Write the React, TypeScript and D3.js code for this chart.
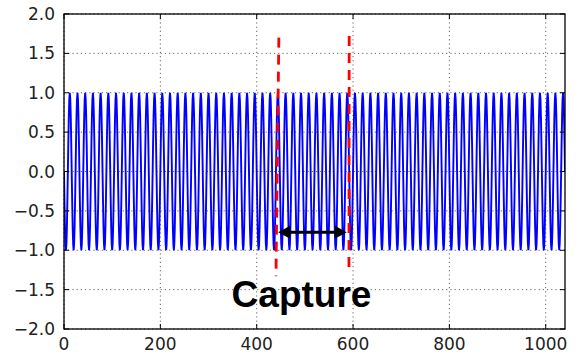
import React from "react";
import * as d3 from "d3";

const cycleValues = [0, -0.38, -0.71, -0.92, -1, -0.92, -0.71, -0.38, 0, 0.38, 0.71, 0.92, 1, 0.92, 0.71, 0.38];
const sampleCount = 1040;

const xTicks = [0, 200, 400, 600, 800, 1000];
const yTicks = [2.0, 1.5, 1.0, 0.5, 0.0, -0.5, -1.0, -1.5, -2.0];

// Annotations (data coordinates)
const captureLine1 = [[446, 1.7], [440, -1.33]];
const captureLine2 = [[592, 1.72], [591.5, -1.25]];
const arrowSpan = [444.5, 587];
const arrowY = -0.772;
const captureLabel = "Capture";
const captureLabelPos = [493, -1.72];

const W = 578;
const H = 357;
const M = { left: 64, right: 13, top: 14, bottom: 28 };

export default function App() {
  const x = d3.scaleLinear().domain([0, sampleCount]).range([M.left, W - M.right]);
  const y = d3.scaleLinear().domain([-2, 2]).range([H - M.bottom, M.top]);

  const samples = d3.range(sampleCount + 1).map((n) => cycleValues[n % cycleValues.length]);
  const line = d3
    .line<number>()
    .x((_, i) => x(i))
    .y((d) => y(d));

  const fmtY = (v: number) => (v < 0 ? "\u2212" : "") + Math.abs(v).toFixed(1);
  const x0 = M.left;
  const x1 = W - M.right;
  const y0 = M.top;
  const y1 = H - M.bottom;
  const tick = 5;
  const font = "DejaVu Sans, sans-serif";

  const ax1 = x(arrowSpan[0]);
  const ax2 = x(arrowSpan[1]);
  const ay = y(arrowY);
  const head = 12;
  const hw = 6.5;

  return (
    <svg width={W} height={H} style={{ position: "absolute", left: 0, top: 0, background: "#fff" }}>
      <defs>
        <clipPath id="plot">
          <rect x={x0} y={y0} width={x1 - x0} height={y1 - y0} />
        </clipPath>
      </defs>
      {/* grid */}
      <g stroke="#000" strokeWidth={1} strokeDasharray="1.2 3" opacity={0.6}>
        {xTicks.map((t) => (
          <line key={"gx" + t} x1={x(t)} x2={x(t)} y1={y0} y2={y1} />
        ))}
        {yTicks.map((t) => (
          <line key={"gy" + t} x1={x0} x2={x1} y1={y(t)} y2={y(t)} />
        ))}
      </g>
      {/* signal */}
      <path
        d={line(samples) || ""}
        fill="none"
        stroke="#0000ff"
        strokeWidth={1.9}
        clipPath="url(#plot)"
      />
      {/* capture window lines */}
      <g stroke="#ff0000" strokeWidth={2.8} strokeDasharray="10 7">
        <line x1={x(captureLine1[0][0])} y1={y(captureLine1[0][1])} x2={x(captureLine1[1][0])} y2={y(captureLine1[1][1])} />
        <line x1={x(captureLine2[0][0])} y1={y(captureLine2[0][1])} x2={x(captureLine2[1][0])} y2={y(captureLine2[1][1])} />
      </g>
      {/* double arrow */}
      <line x1={ax1 + head - 1} x2={ax2 - head + 1} y1={ay} y2={ay} stroke="#000" strokeWidth={3} />
      <path d={`M${ax1},${ay} L${ax1 + head},${ay - hw} L${ax1 + head},${ay + hw} Z`} fill="#000" />
      <path d={`M${ax2},${ay} L${ax2 - head},${ay - hw} L${ax2 - head},${ay + hw} Z`} fill="#000" />
      {/* capture label */}
      <text
        x={x(captureLabelPos[0])}
        y={y(captureLabelPos[1])}
        textAnchor="middle"
        fontFamily="Liberation Sans, Arial, sans-serif"
        fontWeight="bold"
        fontSize={37}
        fill="#000"
      >
        {captureLabel}
      </text>
      {/* frame */}
      <rect x={x0} y={y0} width={x1 - x0} height={y1 - y0} fill="none" stroke="#000" strokeWidth={1.3} />
      {/* ticks */}
      <g stroke="#000" strokeWidth={1}>
        {xTicks.map((t) => (
          <g key={"tx" + t}>
            <line x1={x(t)} x2={x(t)} y1={y1} y2={y1 - tick} />
            <line x1={x(t)} x2={x(t)} y1={y0} y2={y0 + tick} />
          </g>
        ))}
        {yTicks.map((t) => (
          <g key={"ty" + t}>
            <line x1={x0} x2={x0 + tick} y1={y(t)} y2={y(t)} />
            <line x1={x1} x2={x1 - tick} y1={y(t)} y2={y(t)} />
          </g>
        ))}
      </g>
      {/* tick labels */}
      <g fontFamily={font} fontSize={17} fill="#222">
        {xTicks.map((t) => (
          <text key={"lx" + t} x={x(t)} y={y1 + 21} textAnchor="middle">
            {t}
          </text>
        ))}
        {yTicks.map((t) => (
          <text key={"ly" + t} x={x0 - 9} y={y(t) + 6} textAnchor="end">
            {fmtY(t)}
          </text>
        ))}
      </g>
    </svg>
  );
}
